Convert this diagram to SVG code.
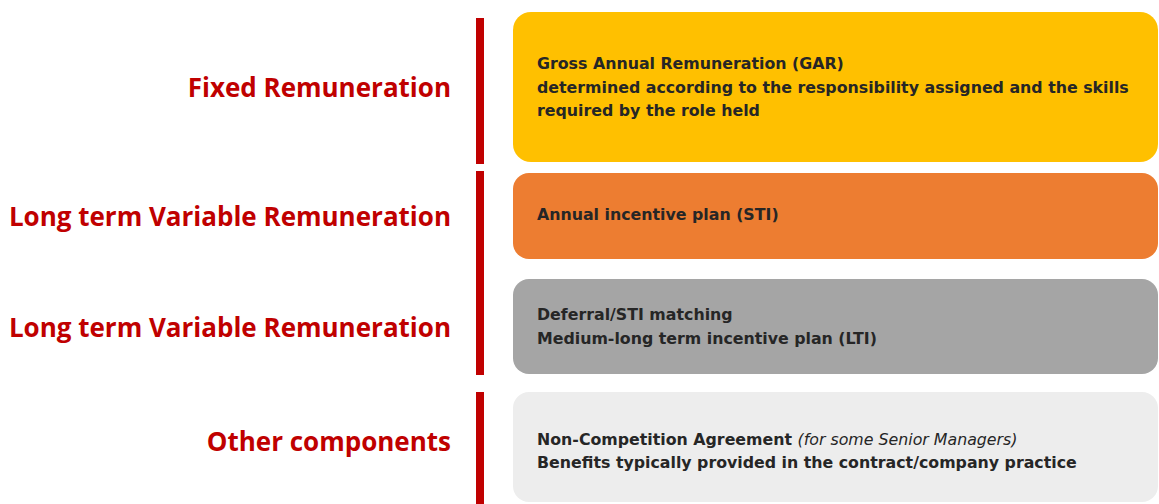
<svg xmlns="http://www.w3.org/2000/svg" width="1159" height="504" viewBox="0 0 1159 504">
<style>
.lbl{font-family:"Open Sans","Liberation Sans",sans-serif;font-weight:bold;font-size:26px;fill:#C00000;text-anchor:end}
.txt{font-family:"DejaVu Sans","Liberation Sans",sans-serif;font-weight:bold;font-size:15.8px;fill:#262626}
.it{font-style:italic;font-weight:normal}
.bar{fill:#C00000}
</style>
<rect width="1159" height="504" fill="#ffffff"/>
<g id="connectors">
<rect class="bar" x="476" y="18" width="8" height="146"/>
<rect class="bar" x="476" y="171" width="8" height="204"/>
<rect class="bar" x="476" y="392" width="8" height="112"/>
</g>
<g id="fixed">
<text class="lbl" x="451" y="97">Fixed Remuneration</text>
<rect x="513" y="12" width="645" height="150" rx="18" fill="#FFC000"/>
<text class="txt" x="537" y="69">Gross Annual Remuneration (GAR)</text>
<text class="txt" x="537" y="93">determined according to the responsibility assigned and the skills</text>
<text class="txt" x="537" y="116">required by the role held</text>
</g>
<g id="sti">
<text class="lbl" x="451" y="226">Long term Variable Remuneration</text>
<rect x="513" y="173" width="645" height="86" rx="16" fill="#ED7D31"/>
<text class="txt" x="537" y="220">Annual incentive plan (STI)</text>
</g>
<g id="lti">
<text class="lbl" x="451" y="337">Long term Variable Remuneration</text>
<rect x="513" y="279" width="645" height="95" rx="16" fill="#A5A5A5"/>
<text class="txt" x="537" y="320">Deferral/STI matching</text>
<text class="txt" x="537" y="344">Medium-long term incentive plan (LTI)</text>
</g>
<g id="other">
<text class="lbl" x="451" y="451">Other components</text>
<rect x="513" y="392" width="645" height="110" rx="16" fill="#EDEDED"/>
<text class="txt" x="537" y="445">Non-Competition Agreement <tspan class="it">(for some Senior Managers)</tspan></text>
<text class="txt" x="537" y="468">Benefits typically provided in the contract/company practice</text>
</g>
</svg>
